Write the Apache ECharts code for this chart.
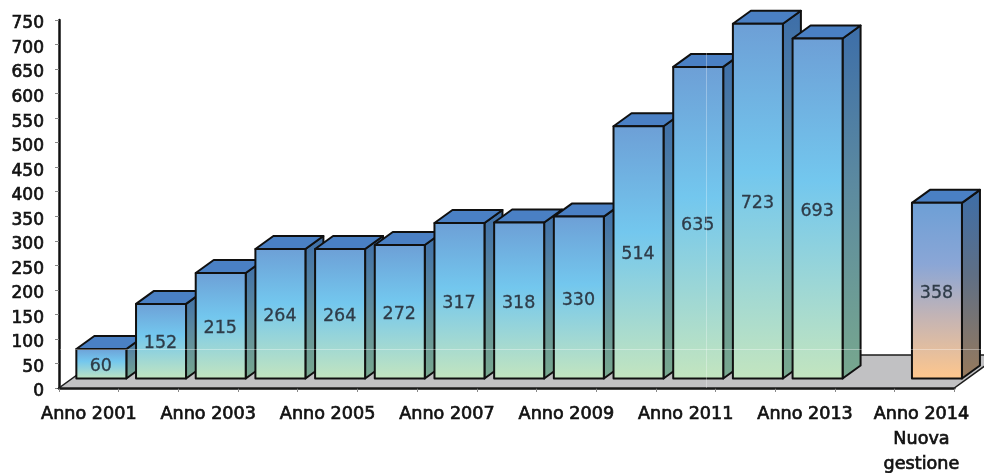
<!DOCTYPE html>
<html>
<head>
<meta charset="utf-8">
<style>html,body{margin:0;padding:0;background:#fff}#chart{width:984px;height:473px}</style>
<script src="https://cdn.jsdelivr.net/npm/echarts@6/dist/echarts.min.js"></script>
</head>
<body>
<div id="chart"></div>
<script>
// Yearly totals, one box per category; the empty slot separates the last year.
const categories = ['Anno 2001','Anno 2002','Anno 2003','Anno 2004','Anno 2005','Anno 2006','Anno 2007',
  'Anno 2008','Anno 2009','Anno 2010','Anno 2011','Anno 2012','Anno 2013','','Anno 2014\nNuova\ngestione'];
const values = [60,152,215,264,264,272,317,318,330,514,635,723,693,null,358];
const highlighted = ['Anno 2014\nNuova\ngestione'];

// Oblique projection used for the pseudo-3D boxes and the floor.
const DEPTH_X = 18, DEPTH_Y = 13;
const BOX_W = 50, BOX_SHIFT_X = 12.5, BOX_LIFT = 9.5;
const FONT = '"DejaVu Sans", sans-serif';

const grad = stops => new echarts.graphic.LinearGradient(0, 0, 0, 1,
  stops.map(c => ({ offset: c[0], color: c[1] })));

const fillsBlue = {
  front: grad([[0,'#6d9fd6'],[0.42,'#73c7ee'],[1,'#c3e5bf']]),
  side:  grad([[0,'#3d6ea9'],[0.45,'#5c8aa0'],[1,'#78a88e']]),
  top:   '#4a80c4'
};
const fillsOrange = {
  front: grad([[0,'#6d9fd6'],[0.35,'#8aa6d6'],[0.65,'#c4b4b4'],[1,'#ffc78c']]),
  side:  grad([[0,'#3d6ea9'],[0.45,'#5f6f85'],[1,'#987a5c']]),
  top:   '#4a80c4'
};

function renderFloor(params, api) {
  const r = params.coordSys;
  const x0 = r.x, x1 = r.x + r.width, y = r.y + r.height;
  const h = 33, d = h * DEPTH_X / DEPTH_Y;
  return {
    type: 'polygon',
    shape: { points: [[x0, y], [x1, y], [x1 + d, y - h], [x0 + d, y - h]] },
    style: { fill: '#c1c1c3', stroke: '#1c1c1c', lineWidth: 1.5 }
  };
}

function renderBox(params, api) {
  const v = api.value(1);
  if (v == null || isNaN(v)) return null;
  const i = api.value(0);
  const base = api.coord([i, 0]);
  const top = api.coord([i, v]);
  const l = base[0] + BOX_SHIFT_X - BOX_W / 2, r = l + BOX_W;
  const yb = base[1] - BOX_LIFT, yt = top[1] - BOX_LIFT;
  const f = highlighted.includes(categories[i]) ? fillsOrange : fillsBlue;
  const edge = { stroke: '#101010', lineWidth: 2, lineJoin: 'round' };
  return {
    type: 'group',
    children: [
      { type: 'polygon', shape: { points: [[r, yb], [r + DEPTH_X, yb - DEPTH_Y], [r + DEPTH_X, yt - DEPTH_Y], [r, yt]] },
        style: Object.assign({ fill: f.side }, edge) },
      { type: 'polygon', shape: { points: [[l, yt], [r, yt], [r + DEPTH_X, yt - DEPTH_Y], [l + DEPTH_X, yt - DEPTH_Y]] },
        style: Object.assign({ fill: f.top }, edge) },
      { type: 'rect', shape: { x: l, y: yt, width: BOX_W, height: yb - yt },
        style: Object.assign({ fill: f.front }, edge) },
      { type: 'text', x: (l + r) / 2 - 0.5, y: (yt + yb) / 2 + 2.5,
        style: { text: String(v), fill: '#2e3b48', font: '17.5px ' + FONT, align: 'center', verticalAlign: 'middle',
          stroke: '#2e3b48', lineWidth: 0.3 } }
    ]
  };
}

// The last, three-line label sits slightly left of its band.
const axisData = categories.map(c => highlighted.includes(c)
  ? { value: c, textStyle: { padding: [0, 6, 0, 0] } } : c);

const chart = echarts.init(document.getElementById('chart'), null, { renderer: 'canvas' });
chart.setOption({
  animation: false,
  backgroundColor: '#fff',
  grid: { left: 59, right: 29.7, top: 20, bottom: 85, outerBoundsMode: 'none' },
  xAxis: {
    type: 'category',
    data: axisData,
    axisLine: { lineStyle: { color: '#111', width: 2.5 } },
    axisTick: { show: true, length: 4, interval: 0, lineStyle: { color: '#888', width: 1 } },
    axisLabel: { interval: 1, color: '#111', fontFamily: FONT, fontSize: 17.6, margin: 14, lineHeight: 25,
      textBorderColor: '#111', textBorderWidth: 0.7 }
  },
  yAxis: {
    type: 'value',
    min: 0, max: 750, interval: 50,
    splitLine: { show: false },
    axisLine: { show: true, lineStyle: { color: '#111', width: 2.5 } },
    axisTick: { show: true, length: 4, lineStyle: { color: '#888', width: 1 } },
    // A short line box anchored at the tick drops each number a little below it.
    axisLabel: { color: '#111', fontFamily: FONT, fontSize: 17, margin: 15, verticalAlign: 'top', lineHeight: 8,
      textBorderColor: '#111', textBorderWidth: 0.7 }
  },
  // Two hairline highlights run across the boxes.
  graphic: [
    { type: 'line', z: 100, silent: true, shape: { x1: 60, y1: 349.5, x2: 984, y2: 349.5 },
      style: { stroke: 'rgba(255,255,255,0.35)', lineWidth: 1 } },
    { type: 'line', z: 100, silent: true, shape: { x1: 706.5, y1: 53, x2: 706.5, y2: 388 },
      style: { stroke: 'rgba(255,255,255,0.3)', lineWidth: 1 } }
  ],
  series: [
    { type: 'custom', renderItem: renderFloor, data: [[0, 0]], encode: { x: 0, y: 1 }, z: 1, silent: true, clip: false },
    { type: 'custom', renderItem: renderBox, data: values.map((v, i) => [i, v == null ? '-' : v]),
      encode: { x: 0, y: 1 }, z: 2, silent: true, clip: false }
  ]
});
</script>
</body>
</html>
